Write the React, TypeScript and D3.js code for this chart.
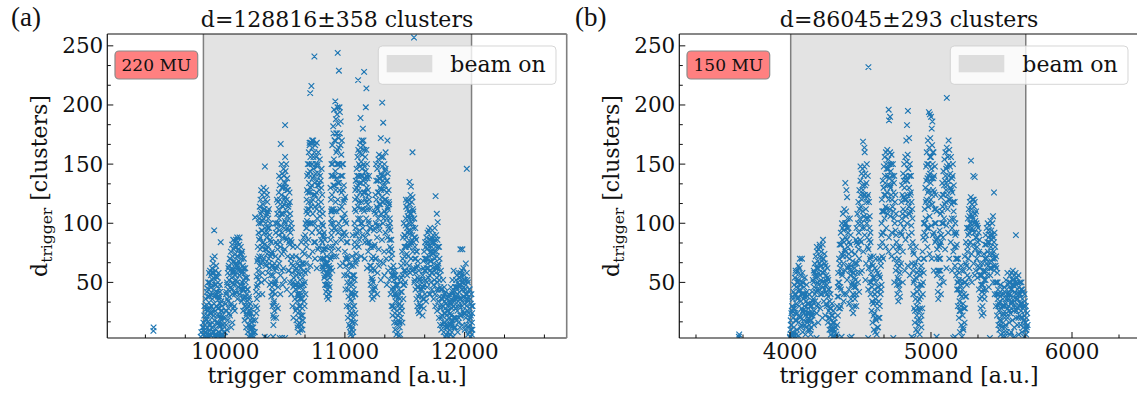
import React from 'react';
import * as d3 from 'd3';

const W = 1137, H = 394;
const FONT = '"DejaVu Serif", serif';
const yDomain = [3, 260];
const yMajor = [50, 100, 150, 200, 250];
const xTicksA = [10000, 11000, 12000];
const xTicksB = [4000, 5000, 6000];
const titleA = 'd=128816±358 clusters';
const titleB = 'd=86045±293 clusters';
const doseA = '220 MU';
const doseB = '150 MU';
const beamA = [9818, 12058];
const beamB = [4005, 5672];
const xDomA = [9015, 12853];
const xDomB = [3215, 6473];

// ---- panel (a) points: flat [x, y, x, y, ...] ----
const a_iso = [9400,9, 9402,12, 10330,4, 10350,3, 10400,4, 10455,3, 10475,3, 10500,3];
const a_A = [9795,4, 9800,8, 9805,3, 9810,12, 9812,6, 9818,16, 9820,9, 9825,22, 9828,4, 9830,14, 9835,27, 9838,19, 9840,8, 9845,31, 9848,22, 9850,12, 9852,38, 9855,5, 9858,28, 9860,17, 9862,44, 9865,33, 9868,9, 9870,50, 9872,24, 9875,40, 9878,14, 9880,56, 9882,30, 9885,46, 9888,20, 9890,62, 9892,36, 9895,52, 9897,8, 9900,66, 9902,27, 9905,44, 9908,94, 9908,58, 9910,18, 9912,72, 9915,38, 9918,60, 9920,11, 9922,48, 9925,30, 9928,55, 9930,22, 9932,42, 9935,5, 9938,35, 9940,50, 9942,16, 9945,28, 9948,45, 9950,8, 9952,38, 9955,22, 9958,32, 9960,13, 9962,84, 9965,26, 9968,4, 9970,18, 9972,30, 9975,10, 9978,22, 9980,6, 9985,14, 9990,4, 9880,5, 9890,12, 9920,4, 9935,15, 9850,45, 9865,58, 9895,70, 9925,64, 9945,58, 9860,3, 9875,28, 9905,22, 9915,6, 9940,38, 9955,48];
const a_A2 = [9822,12, 9826,30, 9833,8, 9837,36, 9843,18, 9847,42, 9853,26, 9857,50, 9863,14, 9867,38, 9873,60, 9877,46, 9883,24, 9887,58, 9893,16, 9897,40, 9903,54, 9907,32, 9913,48, 9917,26, 9923,40, 9927,16, 9933,54, 9937,28, 9943,8, 9947,36, 9953,14, 9957,42, 9963,20, 9967,34, 9973,26, 9977,14, 9983,20, 9987,8, 9847,4, 9877,6, 9907,8, 9957,4];
const a_B = [9998,8, 10002,20, 10005,32, 10008,14, 10010,42, 10012,26, 10015,50, 10018,36, 10020,18, 10022,58, 10025,44, 10028,28, 10030,64, 10032,52, 10035,38, 10038,70, 10040,22, 10042,60, 10045,46, 10048,76, 10050,32, 10052,66, 10055,54, 10058,82, 10060,40, 10062,72, 10065,60, 10068,86, 10070,48, 10072,78, 10075,30, 10078,68, 10080,84, 10082,56, 10085,74, 10088,42, 10090,86, 10092,64, 10095,80, 10098,50, 10100,72, 10102,36, 10105,84, 10108,60, 10110,78, 10112,46, 10115,68, 10118,82, 10120,56, 10122,40, 10125,74, 10128,62, 10130,80, 10132,48, 10135,70, 10138,34, 10140,58, 10142,76, 10145,44, 10148,64, 10150,26, 10152,52, 10155,70, 10158,38, 10160,58, 10162,18, 10165,46, 10168,62, 10170,30, 10172,50, 10175,12, 10178,40, 10180,24, 10182,54, 10185,34, 10188,8, 10190,44, 10192,20, 10195,30, 10198,4, 10200,38, 10202,14, 10205,26, 10208,6, 10210,32, 10212,18, 10215,10, 10218,24, 10220,4, 10222,16, 10225,8, 10228,20, 10230,5, 10235,12, 10240,4, 10245,8, 10120,88, 10100,88, 10080,26, 10060,16, 10050,12];
const a_B2 = [10003,26, 10007,40, 10013,10, 10017,48, 10023,34, 10027,62, 10033,24, 10037,56, 10043,70, 10047,30, 10053,44, 10057,62, 10063,50, 10067,28, 10073,58, 10077,80, 10083,40, 10087,66, 10093,52, 10097,72, 10103,62, 10107,46, 10113,78, 10117,56, 10123,66, 10127,44, 10133,60, 10137,74, 10143,50, 10147,36, 10153,62, 10157,44, 10163,30, 10167,54, 10173,38, 10177,22, 10183,44, 10187,28, 10193,14, 10197,36, 10203,24, 10207,12, 10213,28, 10217,6, 10223,12, 10233,18];
const a_C = [10248,8, 10252,18, 10255,30, 10258,42, 10260,24, 10262,55, 10265,36, 10268,68, 10270,48, 10272,80, 10275,60, 10278,92, 10280,40, 10282,104, 10285,72, 10288,114, 10290,56, 10292,88, 10295,120, 10298,100, 10300,66, 10302,110, 10305,80, 10308,124, 10310,94, 10312,58, 10315,116, 10318,84, 10320,104, 10322,70, 10325,126, 10328,92, 10330,112, 10332,148, 10334,78, 10336,120, 10338,100, 10340,64, 10342,128, 10345,88, 10348,108, 10350,74, 10352,118, 10355,96, 10358,58, 10360,104, 10362,80, 10365,112, 10368,66, 10370,90, 10372,48, 10375,100, 10378,72, 10380,56, 10382,84, 10385,38, 10388,64, 10390,46, 10392,76, 10395,30, 10398,56, 10400,22, 10402,42, 10405,32, 10280,100, 10300,128, 10320,130, 10350,124, 10310,40, 10330,52, 10250,105];
const a_C2 = [10263,46, 10267,28, 10273,70, 10277,52, 10283,86, 10287,64, 10293,78, 10297,108, 10303,94, 10307,72, 10313,102, 10317,68, 10323,112, 10327,82, 10333,96, 10337,66, 10343,106, 10347,78, 10353,92, 10357,110, 10363,70, 10367,96, 10373,62, 10377,86, 10383,50, 10387,74, 10393,42, 10397,64, 10403,14, 10303,50];
const a_D = [10405,20, 10408,34, 10410,48, 10412,26, 10415,60, 10418,40, 10420,72, 10422,52, 10425,84, 10428,30, 10430,96, 10432,64, 10435,108, 10438,78, 10440,118, 10442,46, 10445,90, 10448,126, 10450,104, 10452,66, 10455,132, 10458,84, 10460,116, 10462,56, 10464,167, 10465,138, 10468,98, 10470,124, 10472,74, 10475,142, 10478,108, 10480,88, 10482,130, 10485,62, 10488,146, 10490,116, 10492,96, 10495,134, 10498,78, 10500,183, 10500,156, 10502,122, 10504,144, 10505,100, 10508,130, 10510,150, 10512,86, 10515,120, 10518,138, 10520,106, 10522,72, 10525,128, 10528,94, 10530,116, 10532,60, 10535,104, 10538,82, 10540,118, 10542,50, 10545,92, 10548,70, 10550,100, 10552,40, 10555,84, 10558,58, 10560,72, 10562,30, 10565,64, 10568,46, 10570,20, 10572,54, 10425,20, 10440,28, 10460,40, 10480,48, 10495,52, 10515,44, 10450,140, 10470,150, 10490,140, 10420,100, 10432,120];
const a_D2 = [10413,66, 10417,50, 10423,92, 10427,62, 10433,82, 10437,100, 10443,70, 10447,112, 10453,94, 10457,120, 10463,80, 10467,108, 10473,130, 10477,92, 10483,114, 10487,76, 10493,120, 10497,102, 10503,134, 10507,88, 10513,110, 10517,128, 10523,96, 10527,114, 10533,84, 10537,126, 10543,108, 10547,86, 10553,66, 10557,96, 10563,50, 10567,80, 10473,60, 10527,60];
const a_E = [10578,48, 10582,36, 10585,60, 10588,26, 10590,72, 10592,44, 10595,18, 10598,56, 10600,34, 10602,80, 10604,12, 10606,66, 10608,24, 10610,46, 10612,8, 10614,58, 10616,30, 10618,40, 10620,16, 10622,70, 10624,52, 10626,10, 10628,36, 10630,62, 10632,22, 10634,48, 10636,84, 10638,14, 10640,40, 10642,66, 10644,28, 10646,54, 10648,76, 10650,18, 10652,44, 10655,88, 10658,34, 10660,60, 10662,74, 10665,50, 10668,90, 10670,40, 10672,100, 10675,66, 10678,110, 10680,80, 10615,20, 10605,40, 10630,30, 10645,10, 10595,48];
const a_E2 = [10587,44, 10593,62, 10597,28, 10603,50, 10607,14, 10613,38, 10617,64, 10623,26, 10627,46, 10633,14, 10637,58, 10643,36, 10647,22, 10653,66, 10657,48, 10663,30, 10667,58, 10673,84, 10677,96, 10683,102];
const a_F = [10680,120, 10682,96, 10685,140, 10688,108, 10690,150, 10692,126, 10695,86, 10698,160, 10700,134, 10702,112, 10705,166, 10708,144, 10710,210, 10710,100, 10712,156, 10715,130, 10718,168, 10720,216, 10720,118, 10722,150, 10725,92, 10728,164, 10730,138, 10732,108, 10735,170, 10738,146, 10740,124, 10742,84, 10745,241, 10745,160, 10748,134, 10750,114, 10752,166, 10755,142, 10758,96, 10760,156, 10762,126, 10765,168, 10768,104, 10770,148, 10772,132, 10775,78, 10778,160, 10780,116, 10782,142, 10785,92, 10788,128, 10790,154, 10792,106, 10795,70, 10798,136, 10800,118, 10802,86, 10805,146, 10808,100, 10810,124, 10812,64, 10815,108, 10818,90, 10700,72, 10712,64, 10730,76, 10750,70, 10690,60, 10765,62, 10725,170, 10705,168];
const a_F2 = [10683,128, 10687,112, 10693,142, 10697,118, 10703,150, 10707,126, 10713,140, 10717,114, 10723,132, 10727,150, 10733,120, 10737,156, 10743,140, 10747,100, 10753,124, 10757,150, 10763,112, 10767,136, 10773,150, 10777,120, 10783,132, 10787,110, 10793,140, 10797,96, 10803,130, 10807,112, 10813,98, 10817,76, 10693,100, 10723,100, 10753,84, 10783,80];
const a_G = [10812,84, 10815,70, 10818,98, 10820,60, 10822,78, 10825,92, 10828,54, 10830,70, 10832,86, 10835,48, 10838,64, 10840,80, 10842,42, 10845,58, 10848,72, 10850,38, 10852,52, 10855,66, 10858,44, 10860,36, 10862,56, 10865,48, 10868,40, 10870,62, 10872,46, 10875,54, 10878,70, 10880,86, 10882,62, 10885,100, 10888,76, 10890,112, 10817,62, 10823,88, 10827,66, 10833,56, 10837,78, 10843,66, 10847,48, 10853,44, 10857,58, 10863,40, 10867,64, 10873,58, 10877,80, 10883,72, 10887,90];
const a_H = [10880,130, 10885,110, 10888,150, 10890,94, 10892,124, 10895,166, 10898,140, 10900,80, 10902,182, 10905,112, 10908,154, 10910,196, 10912,132, 10915,96, 10918,170, 10920,203, 10920,144, 10922,118, 10925,188, 10928,160, 10930,72, 10932,138, 10935,176, 10938,198, 10940,244, 10940,120, 10942,150, 10945,184, 10948,100, 10950,229, 10950,164, 10952,134, 10955,198, 10958,176, 10960,112, 10962,148, 10965,186, 10968,86, 10970,158, 10972,126, 10975,170, 10978,104, 10980,140, 10982,66, 10985,150, 10988,118, 10990,92, 10992,132, 10995,56, 10998,108, 11000,76, 11002,122, 11005,44, 11008,90, 11010,64, 11012,100, 11015,30, 11018,72, 11020,50, 11022,84, 11025,20, 11028,60, 11030,38, 10895,60, 10910,72, 10925,84, 10945,78, 10960,64, 10905,176, 10935,192, 10958,194, 10890,104, 10930,110];
const a_H2 = [10883,120, 10887,140, 10893,110, 10897,150, 10903,132, 10907,96, 10913,170, 10917,140, 10923,128, 10927,176, 10933,150, 10937,162, 10943,134, 10947,172, 10953,150, 10957,128, 10963,166, 10967,140, 10973,114, 10977,150, 10983,128, 10987,104, 10993,120, 10997,92, 11003,102, 11007,70, 11013,84, 11017,56, 11023,70, 11027,44, 10903,100, 10923,94, 10943,92, 10963,96, 10983,90, 10913,110];
const a_I = [11035,14, 11038,48, 11040,26, 11042,66, 11045,8, 11048,36, 11050,54, 11052,18, 11055,42, 11058,10, 11060,72, 11062,28, 11064,56, 11066,12, 11068,38, 11070,20, 11072,64, 11075,44, 11078,30, 11080,80, 11082,52, 11085,16, 11088,40, 11090,68, 11050,6, 11060,40, 11070,8, 11055,24, 11065,90, 11037,30, 11043,50, 11047,22, 11053,64, 11057,34, 11063,16, 11067,48, 11073,30, 11077,56, 11083,40, 11087,24, 11043,12, 11063,4];
const a_J = [11080,100, 11082,84, 11085,120, 11088,96, 11090,136, 11092,110, 11095,74, 11098,146, 11100,122, 11102,92, 11105,156, 11108,132, 11110,221, 11110,104, 11112,162, 11115,140, 11118,118, 11120,160, 11122,86, 11125,148, 11128,126, 11130,189, 11130,164, 11132,100, 11135,152, 11138,134, 11140,170, 11142,112, 11145,158, 11148,140, 11150,180, 11150,96, 11152,166, 11155,126, 11158,150, 11160,228, 11160,110, 11162,162, 11165,138, 11168,84, 11170,156, 11172,120, 11175,198, 11175,144, 11178,104, 11180,214, 11180,162, 11182,130, 11185,150, 11188,92, 11190,138, 11192,116, 11195,76, 11198,124, 11200,100, 11202,140, 11205,84, 11208,112, 11210,64, 11212,96, 11215,48, 11218,80, 11220,60, 11222,40, 11225,70, 11228,52, 11230,36, 11090,66, 11100,70, 11115,80, 11135,72, 11145,90, 11165,70, 11185,62, 11125,168, 11155,170];
const a_J2 = [11083,112, 11087,128, 11093,90, 11097,130, 11103,140, 11107,114, 11113,128, 11117,150, 11123,134, 11127,104, 11133,140, 11137,118, 11143,146, 11147,124, 11153,136, 11157,112, 11163,148, 11167,126, 11173,134, 11177,118, 11183,140, 11187,112, 11193,128, 11197,102, 11203,120, 11207,96, 11213,80, 11217,64, 11223,54, 11227,44, 11103,82, 11123,94, 11143,100, 11173,88, 11193,84];
const a_K = [11235,50, 11238,72, 11240,38, 11242,94, 11245,60, 11248,110, 11250,82, 11252,46, 11255,124, 11258,100, 11260,70, 11262,136, 11265,114, 11268,88, 11270,146, 11272,58, 11275,126, 11278,104, 11280,154, 11282,78, 11285,138, 11288,116, 11290,94, 11292,150, 11295,130, 11298,68, 11300,172, 11300,142, 11302,108, 11305,156, 11308,122, 11310,86, 11312,202, 11312,148, 11315,132, 11318,100, 11320,185, 11320,156, 11322,118, 11325,140, 11328,76, 11330,150, 11332,110, 11335,132, 11338,92, 11340,146, 11342,120, 11345,70, 11348,136, 11350,104, 11352,126, 11355,170, 11355,88, 11358,142, 11360,112, 11362,60, 11365,128, 11368,96, 11370,116, 11372,52, 11375,104, 11378,80, 11380,94, 11382,40, 11385,70, 11388,86, 11390,30, 11392,56, 11395,74, 11398,22, 11245,44, 11270,40, 11300,52, 11330,56, 11350,48, 11260,150, 11285,158, 11340,160];
const a_K2 = [11237,62, 11243,80, 11247,96, 11253,70, 11257,108, 11263,120, 11267,98, 11273,112, 11277,136, 11283,126, 11287,98, 11293,138, 11297,116, 11303,128, 11307,140, 11313,118, 11317,136, 11323,104, 11327,128, 11333,120, 11337,144, 11343,108, 11347,118, 11353,136, 11357,114, 11363,98, 11367,118, 11373,86, 11377,100, 11383,62, 11387,78, 11393,44, 11397,60, 11283,64, 11323,66, 11363,76];
const a_L = [11402,46, 11405,64, 11408,28, 11410,52, 11412,16, 11415,40, 11418,60, 11420,10, 11422,34, 11425,48, 11428,20, 11430,6, 11432,40, 11435,26, 11438,14, 11440,54, 11442,8, 11445,30, 11448,18, 11450,44, 11452,5, 11455,24, 11458,12, 11460,36, 11462,6, 11465,50, 11468,20, 11470,64, 11472,30, 11475,42, 11478,76, 11480,16, 11482,56, 11485,88, 11488,36, 11490,66, 11492,100, 11495,48, 11498,80, 11403,30, 11407,56, 11413,44, 11417,24, 11423,56, 11427,38, 11433,16, 11437,48, 11443,22, 11447,38, 11453,16, 11457,32, 11463,28, 11467,42, 11473,54, 11477,26, 11483,70, 11487,48, 11493,60, 11497,90];
const a_M = [11500,72, 11502,90, 11505,60, 11508,104, 11510,80, 11512,114, 11515,66, 11518,96, 11520,118, 11522,84, 11525,106, 11528,72, 11530,120, 11532,94, 11535,110, 11538,64, 11540,135, 11540,100, 11542,82, 11545,116, 11548,124, 11550,92, 11552,131, 11552,70, 11555,108, 11558,118, 11560,86, 11562,100, 11565,160, 11565,122, 11568,76, 11570,96, 11572,110, 11575,62, 11577,257, 11578,88, 11580,104, 11582,52, 11585,80, 11588,96, 11590,44, 11592,70, 11595,86, 11598,36, 11600,62, 11602,76, 11605,30, 11608,54, 11610,68, 11612,26, 11615,46, 11618,60, 11620,24, 11622,40, 11625,52, 11628,30, 11630,44, 11520,56, 11545,58, 11560,60, 11580,50, 11510,120];
const a_M2 = [11503,80, 11507,98, 11513,88, 11517,74, 11523,112, 11527,92, 11533,104, 11537,80, 11543,108, 11547,94, 11553,84, 11557,104, 11563,90, 11567,112, 11573,84, 11577,104, 11583,70, 11587,88, 11593,58, 11597,76, 11603,46, 11607,64, 11613,38, 11617,52, 11623,32, 11627,48, 11503,50, 11533,60];
const a_N = [11640,30, 11645,44, 11648,22, 11650,56, 11652,36, 11655,68, 11658,28, 11660,48, 11662,76, 11665,60, 11668,40, 11670,84, 11672,52, 11675,70, 11678,34, 11680,88, 11682,62, 11685,78, 11688,46, 11690,92, 11692,66, 11695,82, 11698,54, 11700,94, 11702,72, 11705,40, 11708,86, 11710,60, 11712,96, 11715,76, 11718,50, 11720,88, 11722,68, 11725,80, 11728,44, 11730,94, 11732,58, 11735,74, 11738,90, 11740,36, 11742,66, 11745,84, 11748,52, 11750,96, 11752,70, 11755,30, 11758,123, 11758,80, 11760,58, 11762,90, 11765,44, 11768,108, 11768,72, 11770,26, 11772,62, 11775,101, 11775,50, 11778,80, 11780,34, 11782,66, 11785,20, 11788,52, 11790,70, 11792,38, 11795,14, 11798,46, 11800,28, 11802,60, 11805,10, 11808,36, 11810,22];
const a_N2 = [11643,38, 11647,52, 11653,46, 11657,62, 11663,36, 11667,70, 11673,60, 11677,80, 11683,50, 11687,70, 11693,84, 11697,62, 11703,80, 11707,56, 11713,68, 11717,86, 11723,58, 11727,76, 11733,84, 11737,62, 11743,48, 11747,76, 11753,86, 11757,62, 11763,76, 11767,54, 11773,86, 11777,64, 11783,44, 11787,80, 11793,56, 11797,30, 11803,44, 11807,20, 11713,40, 11753,40];
const a_O = [11812,44, 11815,30, 11818,14, 11820,52, 11822,38, 11825,8, 11828,24, 11830,46, 11832,16, 11835,34, 11838,4, 11840,28, 11842,42, 11845,12, 11848,22, 11850,36, 11852,5, 11855,18, 11858,30, 11860,8, 11862,14, 11865,26, 11868,4, 11870,40, 11872,20, 11875,10, 11878,32, 11880,6, 11882,24, 11885,46, 11888,14, 11890,36, 11892,8, 11895,28, 11898,52, 11900,18, 11902,42, 11905,4, 11908,60, 11910,30, 11912,12, 11813,22, 11817,36, 11823,30, 11827,16, 11833,40, 11837,24, 11843,32, 11847,6, 11853,26, 11857,12, 11863,38, 11867,20, 11873,30, 11877,14, 11883,34, 11887,22, 11893,16, 11897,40, 11903,30, 11907,20];
const a_P = [11915,20, 11918,34, 11920,46, 11922,12, 11925,28, 11928,52, 11930,38, 11932,18, 11935,56, 11938,44, 11940,26, 11942,8, 11945,50, 11948,34, 11950,58, 11952,20, 11955,42, 11958,54, 11960,30, 11962,12, 11965,78, 11965,48, 11968,36, 11970,56, 11972,22, 11975,44, 11978,60, 11980,30, 11982,78, 11982,14, 11985,50, 11988,38, 11990,62, 11992,24, 11995,46, 11998,56, 12000,32, 12002,10, 12005,52, 12008,40, 12010,66, 12010,20, 12012,48, 12015,30, 12018,146, 12018,58, 12020,12, 12022,40, 12025,26, 12028,50, 12030,6, 12032,34, 12035,18, 12038,44, 12040,8, 12042,28, 12045,14, 12048,36, 12050,4, 12052,22, 12055,10, 12058,30, 12060,6, 12062,16];
const a_P2 = [11917,42, 11923,36, 11927,20, 11933,46, 11937,30, 11943,40, 11947,16, 11953,48, 11957,36, 11963,22, 11967,58, 11973,50, 11977,34, 11983,44, 11987,26, 11993,52, 11997,38, 12003,44, 12007,24, 12013,36, 12017,14, 12023,52, 12027,36, 12033,24, 12037,12, 12043,44, 12047,20, 12053,32, 12057,40, 12063,24, 12065,10, 12067,30];

// ---- panel (b) points ----
const b_iso = [3638,4, 3640,6, 4000,3, 4189,3, 4331,3, 4366,4, 4425,3, 4437,4, 4555,3, 4733,3, 4863,4, 4875,3, 5040,4, 5158,3, 5170,4, 5418,3];
const b_A = [4000,4, 4003,10, 4005,18, 4008,6, 4010,24, 4012,14, 4015,30, 4018,8, 4020,36, 4022,20, 4025,42, 4028,12, 4030,48, 4032,28, 4035,54, 4038,18, 4040,40, 4042,58, 4045,32, 4048,10, 4050,50, 4052,24, 4055,60, 4058,38, 4060,16, 4062,52, 4065,30, 4068,62, 4070,70, 4070,44, 4072,20, 4075,56, 4078,34, 4080,48, 4082,14, 4085,70, 4085,40, 4088,58, 4090,26, 4092,50, 4095,36, 4098,18, 4100,46, 4102,30, 4105,54, 4108,22, 4110,40, 4112,12, 4115,34, 4118,48, 4120,24, 4122,16, 4125,38, 4128,10, 4130,28, 4132,20, 4135,32, 4138,14, 4140,24, 4142,10, 4145,18, 4148,12, 4150,22, 4030,4, 4045,6, 4060,5, 4090,8, 4110,6, 4040,60, 4060,64];
const b_A2 = [4007,14, 4013,26, 4017,38, 4023,28, 4027,6, 4033,40, 4037,24, 4043,46, 4047,18, 4053,36, 4057,50, 4063,42, 4067,22, 4073,48, 4077,12, 4083,28, 4087,50, 4093,40, 4097,24, 4103,38, 4107,14, 4113,26, 4117,42, 4123,32, 4127,18, 4133,24, 4137,40, 4143,30, 4147,6];
const b_B = [4152,18, 4155,30, 4158,42, 4160,22, 4162,52, 4165,36, 4168,60, 4170,26, 4172,46, 4175,66, 4178,34, 4180,56, 4182,72, 4185,42, 4188,62, 4190,24, 4192,76, 4195,50, 4198,68, 4200,32, 4202,78, 4205,58, 4208,44, 4210,72, 4212,80, 4215,28, 4218,64, 4220,52, 4222,76, 4225,40, 4228,68, 4230,58, 4232,82, 4234,86, 4235,46, 4238,70, 4240,34, 4242,60, 4245,74, 4248,50, 4250,22, 4252,64, 4255,42, 4258,56, 4260,30, 4262,48, 4265,62, 4268,16, 4270,38, 4272,52, 4275,26, 4278,44, 4280,10, 4282,34, 4285,20, 4288,40, 4290,6, 4292,28, 4295,14, 4298,32, 4300,4, 4302,22, 4305,10, 4308,26, 4310,4, 4312,16, 4315,8, 4318,20, 4320,4, 4325,12, 4330,6, 4335,14, 4170,14, 4200,16, 4230,20, 4210,82, 4190,80];
const b_B2 = [4157,24, 4163,34, 4167,50, 4173,58, 4177,40, 4183,54, 4187,30, 4193,44, 4197,62, 4203,48, 4207,66, 4213,56, 4217,40, 4223,64, 4227,50, 4233,70, 4237,58, 4243,44, 4247,66, 4253,52, 4257,32, 4263,40, 4267,54, 4273,44, 4277,20, 4283,28, 4287,14, 4293,22, 4297,10, 4303,16, 4313,10];
const b_C = [4335,30, 4338,46, 4340,22, 4342,58, 4345,38, 4348,70, 4350,50, 4352,82, 4355,28, 4358,62, 4360,92, 4362,44, 4365,74, 4368,100, 4370,56, 4372,86, 4375,108, 4378,66, 4380,94, 4382,40, 4385,112, 4388,78, 4390,100, 4392,134, 4392,60, 4395,88, 4398,110, 4400,128, 4400,72, 4402,96, 4405,122, 4405,52, 4408,104, 4410,80, 4412,64, 4415,96, 4418,44, 4420,84, 4422,70, 4425,104, 4428,56, 4430,90, 4432,36, 4435,76, 4438,60, 4440,28, 4442,50, 4445,68, 4448,24, 4450,40, 4452,58, 4455,30, 4360,30, 4380,34, 4400,40, 4420,32, 4337,38, 4343,50, 4347,28, 4353,66, 4357,46, 4363,82, 4367,58, 4373,96, 4377,72, 4383,84, 4387,98, 4393,76, 4397,100, 4403,86, 4407,62, 4413,92, 4417,74, 4423,60, 4427,82, 4433,64, 4437,48, 4443,58, 4447,40, 4453,48];
const b_D = [4455,46, 4458,62, 4460,36, 4462,74, 4465,52, 4468,86, 4470,40, 4472,96, 4475,66, 4478,108, 4480,82, 4482,50, 4485,118, 4488,92, 4490,70, 4492,128, 4495,104, 4498,58, 4500,136, 4502,114, 4505,84, 4508,142, 4510,120, 4512,96, 4515,146, 4518,169, 4518,128, 4520,76, 4522,140, 4525,106, 4528,164, 4528,148, 4530,160, 4530,90, 4532,124, 4535,142, 4538,112, 4540,66, 4542,134, 4545,100, 4548,122, 4550,80, 4552,140, 4555,104, 4556,232, 4558,62, 4560,118, 4562,86, 4565,106, 4568,50, 4570,92, 4572,72, 4470,30, 4490,42, 4510,60, 4535,52, 4555,44, 4500,148, 4545,150, 4457,54, 4463,66, 4467,46, 4473,84, 4477,58, 4483,100, 4487,78, 4493,112, 4497,86, 4503,124, 4507,100, 4513,132, 4517,110, 4523,124, 4527,96, 4533,132, 4537,104, 4543,118, 4547,88, 4553,124, 4557,78, 4563,96, 4567,70, 4571,84];
const b_E = [4572,40, 4575,58, 4578,26, 4580,66, 4582,46, 4585,16, 4588,54, 4590,32, 4592,72, 4595,10, 4598,44, 4600,24, 4602,62, 4605,8, 4608,36, 4610,50, 4612,18, 4615,6, 4618,42, 4620,28, 4622,58, 4625,12, 4628,46, 4630,34, 4632,70, 4635,20, 4638,54, 4640,80, 4642,40, 4645,64, 4648,90, 4650,48, 4610,70, 4600,40, 4620,12, 4577,50, 4583,34, 4587,64, 4593,22, 4597,54, 4603,40, 4607,20, 4613,60, 4617,32, 4623,46, 4627,20, 4633,56, 4637,30, 4643,68, 4647,44, 4653,72];
const b_F = [4650,100, 4652,120, 4655,84, 4658,136, 4660,110, 4662,92, 4665,148, 4668,124, 4670,104, 4672,156, 4675,134, 4678,114, 4680,160, 4682,96, 4685,146, 4688,126, 4690,162, 4692,108, 4695,140, 4698,154, 4700,196, 4700,120, 4702,187, 4702,88, 4705,150, 4708,132, 4710,190, 4710,160, 4712,106, 4715,144, 4718,124, 4720,158, 4722,92, 4725,136, 4728,114, 4730,150, 4732,80, 4735,126, 4738,104, 4740,140, 4742,70, 4745,118, 4748,94, 4750,60, 4752,108, 4755,84, 4758,48, 4760,76, 4762,40, 4765,62, 4768,34, 4770,52, 4772,70, 4775,44, 4778,58, 4780,38, 4660,70, 4680,80, 4700,76, 4720,72, 4740,50, 4653,110, 4657,92, 4663,130, 4667,110, 4673,140, 4677,124, 4683,150, 4687,112, 4693,132, 4697,146, 4703,138, 4707,112, 4713,130, 4717,150, 4723,120, 4727,140, 4733,110, 4737,134, 4743,100, 4747,124, 4753,90, 4757,66, 4763,54, 4767,80, 4773,48, 4777,64];
const b_G = [4782,80, 4785,100, 4788,66, 4790,118, 4792,90, 4795,132, 4798,108, 4800,76, 4802,142, 4805,122, 4808,96, 4810,150, 4812,130, 4815,110, 4818,156, 4820,86, 4822,140, 4825,170, 4825,120, 4828,152, 4830,183, 4830,100, 4832,136, 4835,158, 4836,195, 4838,118, 4840,146, 4842,90, 4845,172, 4845,130, 4848,108, 4850,150, 4852,124, 4855,80, 4858,140, 4860,98, 4862,118, 4865,66, 4868,104, 4870,84, 4800,50, 4815,60, 4835,64, 4850,56, 4787,92, 4793,104, 4797,124, 4803,112, 4807,136, 4813,120, 4817,140, 4823,106, 4827,136, 4833,124, 4837,146, 4843,114, 4847,140, 4853,110, 4857,126, 4863,92, 4867,112, 4873,76];
const b_H = [4872,60, 4875,40, 4878,74, 4880,28, 4882,52, 4885,16, 4888,66, 4890,36, 4892,80, 4895,10, 4898,46, 4900,22, 4902,58, 4905,8, 4908,34, 4910,70, 4912,14, 4915,44, 4918,26, 4920,6, 4922,56, 4925,18, 4928,38, 4930,64, 4932,12, 4935,48, 4938,28, 4940,76, 4942,40, 4945,88, 4948,58, 4950,100, 4952,70, 4955,112, 4958,86, 4877,50, 4883,64, 4887,26, 4893,54, 4897,30, 4903,42, 4907,18, 4913,60, 4917,36, 4923,28, 4927,48, 4933,22, 4937,60, 4943,50, 4947,70, 4953,92, 4957,100];
const b_I = [4960,130, 4962,104, 4965,148, 4968,120, 4970,160, 4972,96, 4975,138, 4978,170, 4980,114, 4982,150, 4985,194, 4985,128, 4988,164, 4990,106, 4992,192, 4992,142, 4995,172, 4998,120, 5000,190, 5000,156, 5002,98, 5005,180, 5005,138, 5008,166, 5010,186, 5010,116, 5012,150, 5015,128, 5018,160, 5020,92, 5022,140, 5025,112, 5028,148, 5030,84, 5032,124, 5035,100, 5038,70, 5040,110, 5042,56, 5045,88, 5048,42, 5050,72, 5052,36, 4965,90, 4975,80, 4990,74, 5005,70, 5020,60, 4963,118, 4967,136, 4973,150, 4977,126, 4983,140, 4987,118, 4993,156, 4997,134, 5003,146, 5007,124, 5013,160, 5017,138, 5023,126, 5027,100, 5033,112, 5037,86, 5043,78, 5047,60, 4983,96, 5013,90];
const b_J = [5055,60, 5058,80, 5060,48, 5062,94, 5065,70, 5068,108, 5070,84, 5072,122, 5075,54, 5078,100, 5080,134, 5082,114, 5085,88, 5088,144, 5090,124, 5092,104, 5095,154, 5098,136, 5100,78, 5102,160, 5105,118, 5108,146, 5110,98, 5112,206, 5112,164, 5115,132, 5118,112, 5120,156, 5122,92, 5125,170, 5125,140, 5128,120, 5130,162, 5132,102, 5135,148, 5138,130, 5140,84, 5142,156, 5145,116, 5148,138, 5150,96, 5152,126, 5155,150, 5158,76, 5160,110, 5162,132, 5165,92, 5168,118, 5170,64, 5172,100, 5175,80, 5178,56, 5180,92, 5182,70, 5185,44, 5188,60, 5190,30, 5192,50, 5070,40, 5090,50, 5130,70, 5150,60, 5110,62, 5057,70, 5063,82, 5067,60, 5073,90, 5077,110, 5083,124, 5087,100, 5093,132, 5097,116, 5103,140, 5107,128, 5113,148, 5117,124, 5123,136, 5127,150, 5133,120, 5137,142, 5143,128, 5147,104, 5153,140, 5157,118, 5163,104, 5167,80, 5173,90, 5177,70, 5183,82, 5187,50];
const b_K = [5192,70, 5195,44, 5198,20, 5200,58, 5202,34, 5205,8, 5208,48, 5210,26, 5212,64, 5215,14, 5218,38, 5220,4, 5222,52, 5225,22, 5228,32, 5230,10, 5232,60, 5235,40, 5238,16, 5240,72, 5242,28, 5245,50, 5248,84, 5250,38, 5252,64, 5255,96, 5258,56, 5197,52, 5203,26, 5207,40, 5213,30, 5217,60, 5223,44, 5227,12, 5233,28, 5237,50, 5243,38, 5247,66, 5253,48, 5257,76];
const b_L = [5260,80, 5262,104, 5265,70, 5268,112, 5270,92, 5272,62, 5275,118, 5278,100, 5280,84, 5282,122, 5284,153, 5285,108, 5288,74, 5290,116, 5292,96, 5295,120, 5298,82, 5300,140, 5300,104, 5302,66, 5305,114, 5308,92, 5310,139, 5310,118, 5312,78, 5315,102, 5318,60, 5320,110, 5322,88, 5325,70, 5328,98, 5330,54, 5332,84, 5335,64, 5338,92, 5340,44, 5342,76, 5345,56, 5348,36, 5350,66, 5352,28, 5355,48, 5270,54, 5290,50, 5310,56, 5263,90, 5267,96, 5273,106, 5277,84, 5283,100, 5287,112, 5293,106, 5297,94, 5303,120, 5307,100, 5313,108, 5317,88, 5323,100, 5327,80, 5333,96, 5337,74, 5343,86, 5347,62, 5353,56];
const b_N = [5358,38, 5360,22, 5362,56, 5365,30, 5368,66, 5370,44, 5372,24, 5375,74, 5378,52, 5380,36, 5382,82, 5385,60, 5388,90, 5390,44, 5392,70, 5395,96, 5398,56, 5400,84, 5402,100, 5405,64, 5408,88, 5410,46, 5412,98, 5415,74, 5418,90, 5420,56, 5422,102, 5425,80, 5428,94, 5430,62, 5432,86, 5435,100, 5438,70, 5440,106, 5440,50, 5442,88, 5445,76, 5447,126, 5448,60, 5450,92, 5452,40, 5455,80, 5458,64, 5460,30, 5462,72, 5465,50, 5468,22, 5470,58, 5472,36, 5475,44, 5478,14, 5363,42, 5367,48, 5373,60, 5377,40, 5383,70, 5387,52, 5393,82, 5397,66, 5403,76, 5407,94, 5413,84, 5417,62, 5423,90, 5427,68, 5433,74, 5437,90, 5443,64, 5447,84, 5453,70, 5457,50, 5463,62, 5467,40, 5473,50, 5477,30];
const b_O = [5480,40, 5482,26, 5485,10, 5488,34, 5490,18, 5492,48, 5495,6, 5498,28, 5500,40, 5502,12, 5505,22, 5508,4, 5510,36, 5512,16, 5515,30, 5518,8, 5520,46, 5522,20, 5525,4, 5528,32, 5530,14, 5532,52, 5535,24, 5538,8, 5540,40, 5542,58, 5545,28, 5548,48, 5483,32, 5487,18, 5493,38, 5497,14, 5503,30, 5507,44, 5513,24, 5517,40, 5523,30, 5527,12, 5533,36, 5537,44, 5543,20, 5547,36];
const b_P = [5550,30, 5552,50, 5555,16, 5558,40, 5560,56, 5562,24, 5565,44, 5568,8, 5570,58, 5572,34, 5575,48, 5578,18, 5580,60, 5582,38, 5585,52, 5588,26, 5590,12, 5592,56, 5595,42, 5598,30, 5600,58, 5602,90, 5603,20, 5605,48, 5608,36, 5610,54, 5612,14, 5615,44, 5618,28, 5620,56, 5622,6, 5625,40, 5628,22, 5630,50, 5632,32, 5635,14, 5638,44, 5640,26, 5642,50, 5645,8, 5648,36, 5650,20, 5652,42, 5655,12, 5658,30, 5660,4, 5662,22, 5665,34, 5668,10, 5670,26, 5672,16, 5675,6, 5678,20, 5680,12, 5560,6, 5590,4, 5620,20, 5553,40, 5557,26, 5563,50, 5567,32, 5573,44, 5577,52, 5583,30, 5587,48, 5593,34, 5597,50, 5603,40, 5607,26, 5613,50, 5617,36, 5623,46, 5627,30, 5633,40, 5637,20, 5643,32, 5647,44, 5653,28, 5657,18, 5663,40, 5667,16, 5673,30, 5677,10, 5682,24, 5685,14];

const pointsA = [a_iso, a_A, a_A2, a_B, a_B2, a_C, a_C2, a_D, a_D2, a_E, a_E2, a_F, a_F2, a_G, a_H, a_H2, a_I, a_J, a_J2, a_K, a_K2, a_L, a_M, a_M2, a_N, a_N2, a_O, a_P, a_P2];
const pointsB = [b_iso, b_A, b_A2, b_B, b_B2, b_C, b_D, b_E, b_F, b_G, b_H, b_I, b_J, b_K, b_L, b_N, b_O, b_P];

const pairs = (groups: number[][]) => {
  const out: [number, number][] = [];
  groups.forEach((g) => { for (let i = 0; i + 1 < g.length; i += 2) out.push([g[i], g[i + 1]]); });
  return out;
};

const TOP = 34, BOTTOM = 338;
const COLOR = '#1f77b4';

function Panel(props: { left: number; right: number; xDom: number[]; xTicks: number[]; beam: number[]; groups: number[][]; title: string; dose: string; tag: string; tagX: number; }) {
  const { left, right, xDom, xTicks, beam, groups, title, dose, tag, tagX } = props;
  const x = d3.scaleLinear().domain(xDom).range([left, right]);
  const y = d3.scaleLinear().domain(yDomain).range([BOTTOM, TOP]);
  const pts = pairs(groups);
  const s = 2.8;
  let d = '';
  pts.forEach(([px, py]) => {
    const cx = x(px), cy = y(py);
    if (cy < TOP - 1 || cy > BOTTOM + 1) return;
    d += `M${(cx - s).toFixed(1)},${(cy - s).toFixed(1)}L${(cx + s).toFixed(1)},${(cy + s).toFixed(1)}M${(cx - s).toFixed(1)},${(cy + s).toFixed(1)}L${(cx + s).toFixed(1)},${(cy - s).toFixed(1)}`;
  });
  const step = 1000 / 3;
  const xMinor: number[] = [];
  for (let v = Math.ceil(xDom[0] / step) * step; v <= xDom[1]; v += step) {
    if (Math.abs(v / 1000 - Math.round(v / 1000)) > 1e-6) xMinor.push(v);
  }
  const yMinor: number[] = [];
  for (let k = 1; k * (50 / 3) <= yDomain[1]; k++) {
    if (k % 3 !== 0 && k * (50 / 3) >= yDomain[0]) yMinor.push(k * (50 / 3));
  }
  const cx = (left + right) / 2;
  const cy = (TOP + BOTTOM) / 2;
  const bx0 = x(beam[0]), bx1 = x(beam[1]);
  const clipId = 'clip' + tag.replace(/[()]/g, '');
  const legX = right - 188.4;
  return (
    <g>
      <defs>
        <clipPath id={clipId}><rect x={left} y={TOP} width={right - left} height={BOTTOM - TOP} /></clipPath>
      </defs>
      <rect x={bx0} y={TOP} width={bx1 - bx0} height={BOTTOM - TOP} fill="#e3e3e3" />
      <line x1={bx0} x2={bx0} y1={TOP} y2={BOTTOM} stroke="#7f7f7f" strokeWidth={1.5} />
      <line x1={bx1} x2={bx1} y1={TOP} y2={BOTTOM} stroke="#7f7f7f" strokeWidth={1.5} />
      <path d={d} stroke={COLOR} strokeWidth={1.2} fill="none" clipPath={`url(#${clipId})`} />
      <line x1={left} x2={right} y1={TOP} y2={TOP} stroke="#111" strokeWidth={1.2} />
      <line x1={left} x2={right} y1={BOTTOM} y2={BOTTOM} stroke="#111" strokeWidth={1.2} />
      <line x1={left} x2={left} y1={TOP} y2={BOTTOM} stroke="#111" strokeWidth={1.2} />
      <line x1={right} x2={right} y1={TOP} y2={BOTTOM} stroke="#7f7f7f" strokeWidth={1.6} />
      {xTicks.map((t) => (
        <g key={'xt' + t}>
          <line x1={x(t)} x2={x(t)} y1={BOTTOM} y2={BOTTOM - 6} stroke="#111" strokeWidth={1} />
          <text x={x(t)} y={359} textAnchor="middle" fontFamily={FONT} fontSize={21.5} fill="#111">{t}</text>
        </g>
      ))}
      {xMinor.map((t) => (
        <line key={'xm' + t} x1={x(t)} x2={x(t)} y1={BOTTOM} y2={BOTTOM - 3.5} stroke="#111" strokeWidth={1} />
      ))}
      {yMajor.map((t) => (
        <g key={'yt' + t}>
          <line x1={left} x2={left + 6} y1={y(t)} y2={y(t)} stroke="#111" strokeWidth={1} />
          <text x={left - 4} y={y(t) + 7.5} textAnchor="end" fontFamily={FONT} fontSize={21.5} fill="#111">{t}</text>
        </g>
      ))}
      {yMinor.map((t) => (
        <line key={'ym' + t} x1={left} x2={left + 3.5} y1={y(t)} y2={y(t)} stroke="#111" strokeWidth={1} />
      ))}
      <text x={cx} y={27} textAnchor="middle" fontFamily={FONT} fontSize={22} fill="#111">{title}</text>
      <text x={cx} y={383} textAnchor="middle" fontFamily={FONT} fontSize={22} fill="#111">trigger command [a.u.]</text>
      <text transform={`translate(${left - 60},${cy}) rotate(-90)`} textAnchor="middle" fontFamily={FONT} fontSize={22} fill="#111">
        d<tspan fontSize={15.5} dy={5}>trigger</tspan><tspan fontSize={22} dy={-5}> [clusters]</tspan>
      </text>
      <text x={tagX} y={26} fontFamily='"Liberation Serif", "Times New Roman", serif' fontSize={27} fill="#111">{tag}</text>
      <rect x={left + 7.7} y={51} width={82.7} height={28} rx={4} ry={4} fill="#ff8080" stroke="#8a8a8a" strokeWidth={1.2} />
      <text x={left + 7.7 + 41.35} y={71} textAnchor="middle" fontFamily={FONT} fontSize={17} fill="#111">{dose}</text>
      <rect x={legX} y={46} width={177.7} height={38.3} rx={4} ry={4} fill="#ffffff" fillOpacity={0.8} stroke="#cccccc" strokeOpacity={0.8} strokeWidth={1} />
      <rect x={legX + 8.4} y={55} width={45.6} height={17.3} fill="#dddddd" />
      <text x={legX + 72} y={72} fontFamily={FONT} fontSize={22} fill="#111">beam on</text>
    </g>
  );
}

export default function App() {
  return (
    <svg width={W} height={H} viewBox={`0 0 ${W} ${H}`} style={{ position: 'absolute', left: 0, top: 0, background: '#fff' }}>
      <rect x={0} y={0} width={W} height={H} fill="#fff" />
      <Panel left={107.3} right={566.7} xDom={xDomA} xTicks={xTicksA} beam={beamA} groups={pointsA} title={titleA} dose={doseA} tag="(a)" tagX={11} />
      <Panel left={679.3} right={1138.7} xDom={xDomB} xTicks={xTicksB} beam={beamB} groups={pointsB} title={titleB} dose={doseB} tag="(b)" tagX={575} />
    </svg>
  );
}
